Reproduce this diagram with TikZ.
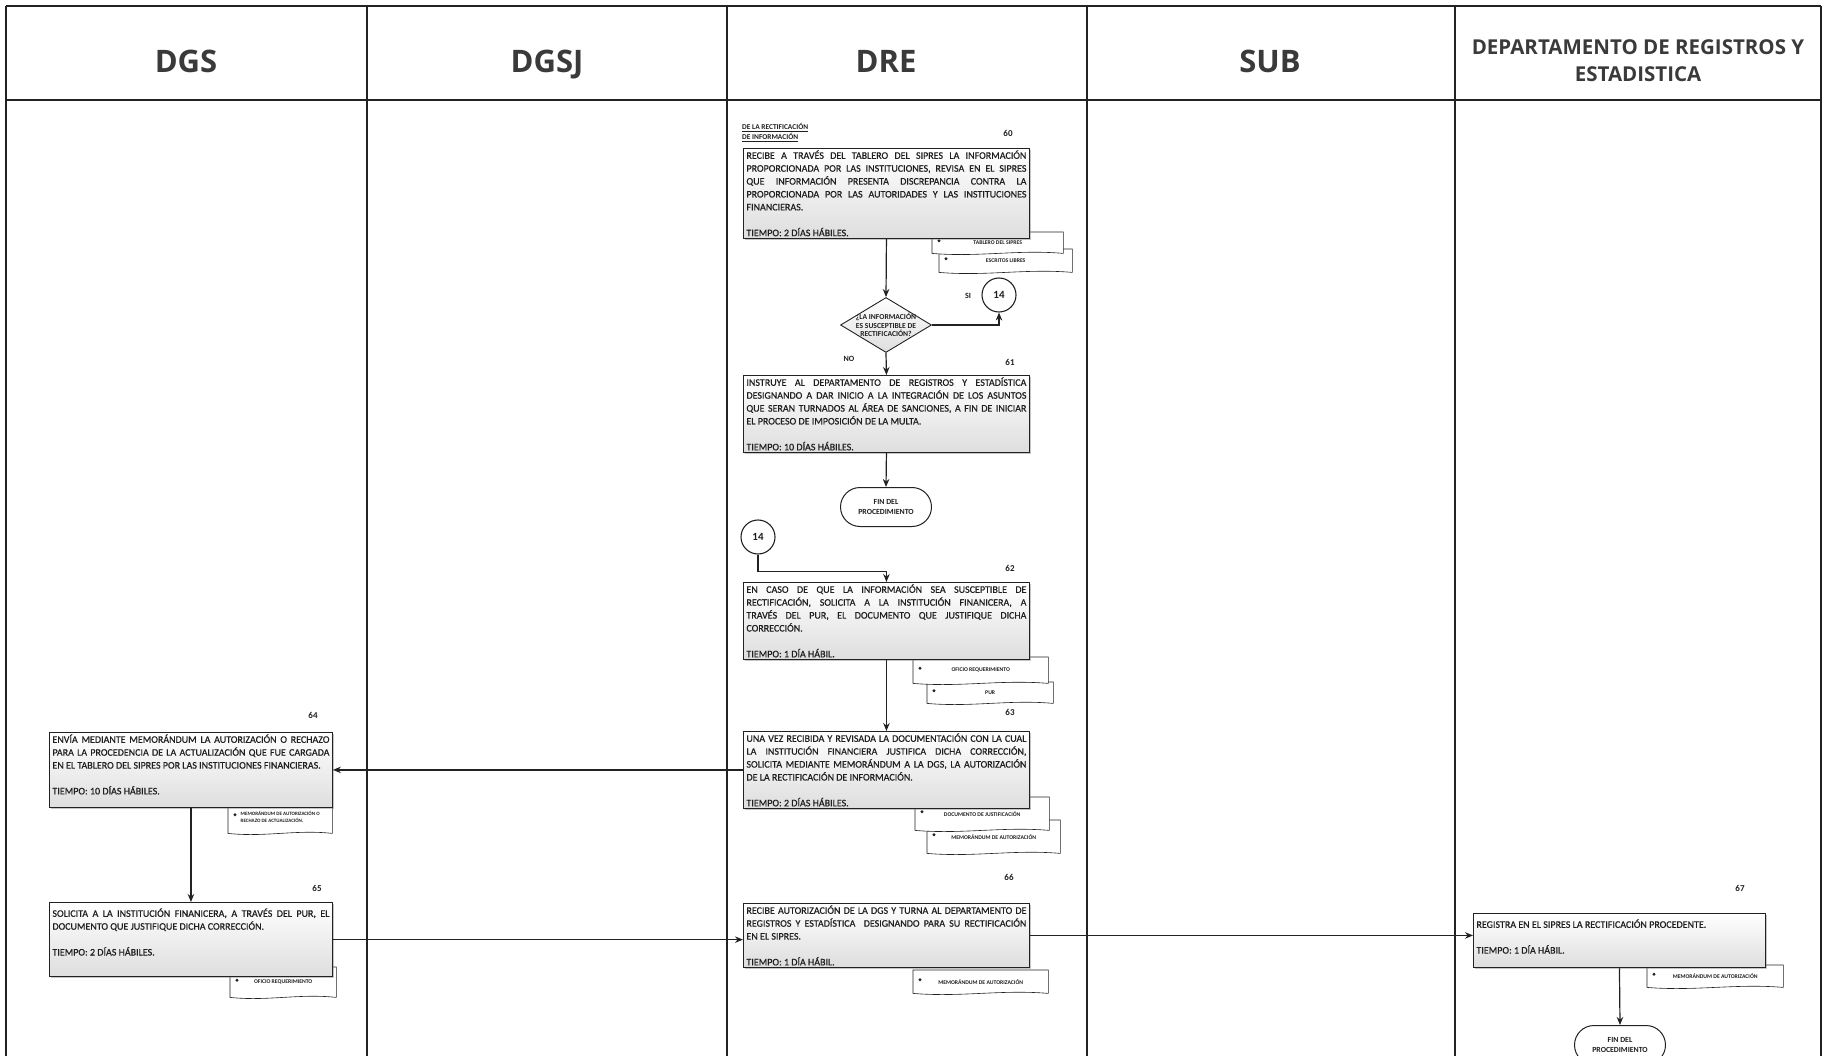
\documentclass[tikz,border=0pt]{standalone}
\usepackage{fontspec}
\setsansfont{Carlito}
\newfontfamily\headfont{Open Sans}
\newfontfamily\boxfont{Carlito}[FakeBold=0.6]
\usetikzlibrary{arrows,arrows.meta,shapes.geometric,shapes.misc,shadows}
\pgfdeclarelayer{background}
\pgfsetlayers{background,main}
\definecolor{ink}{HTML}{1F1F1F}
\definecolor{head}{HTML}{3A3A3A}
\definecolor{rule}{HTML}{222222}

% sheet of paper tucked behind a process box
\newcommand{\docsheet}[6][]{%
  \node[docnode,minimum width=#4pt,minimum height=#5pt,#1] (#2) at #3 {#6};
  \begin{pgfonlayer}{background}
    \draw[docline] (#2.north west) -- (#2.north east) -- (#2.south east)
      .. controls ([xshift=-0.35*#4pt,yshift=4pt]#2.south east)
      and ([xshift=0.35*#4pt,yshift=-4pt]#2.south west) .. (#2.south west) -- cycle;
    \fill[rule] ([xshift=7pt,yshift=2pt]#2.west) circle (1.6pt);
  \end{pgfonlayer}}

\begin{document}
\begin{tikzpicture}[
  x=1pt, y=-1pt,
  font=\sffamily,
  lane/.style={draw=rule,line width=1.4pt},
  lanehead/.style={anchor=base,font=\headfont\bfseries\fontsize{31}{34}\selectfont,text=head},
  process/.style={draw=rule,line width=.9pt,top color=white,bottom color=black!13,
    drop shadow={opacity=.45,shadow xshift=1.6pt,shadow yshift=-1.6pt},
    anchor=north west,inner xsep=3pt,inner ysep=2pt,text width=280pt,
    align=justify,font=\boxfont\fontsize{10}{12.9}\selectfont},
  decision/.style={diamond,aspect=1.65,draw=rule,line width=.9pt,top color=white,
    bottom color=black!13,inner sep=-2pt,minimum width=91pt,minimum height=55pt,
    font=\sffamily\bfseries\fontsize{7.6}{8.4}\selectfont},
  jump/.style={circle,draw=rule,line width=1.1pt,fill=white,minimum size=34pt,
    inner sep=0pt,font=\sffamily\bfseries\fontsize{11}{12}\selectfont},
  terminal/.style={rounded rectangle,draw=rule,line width=1pt,fill=white,
    minimum width=91pt,minimum height=39pt,inner sep=0pt,
    font=\sffamily\bfseries\fontsize{7.8}{9.8}\selectfont},
  docnode/.style={anchor=north west,inner sep=0pt,
    font=\sffamily\bfseries\fontsize{5.7}{7}\selectfont},
  docline/.style={draw=rule,line width=.6pt,fill=white},
  stepnum/.style={font=\sffamily\bfseries\fontsize{9}{10}\selectfont},
  flow/.style={->,>={Stealth[length=8pt,width=6.5pt]},line width=1.2pt,draw=rule},
  every node/.style={align=center,text=ink}]

  \path[use as bounding box] (0,0) rectangle (1832,1056);

  % Swimlanes and their headers
  \draw[lane] (6,6) -- (1821,6);
  \draw[lane] (6,100) -- (1821,100);
  \foreach \x in {6,367,727,1087,1455,1821}
    \draw[lane] (\x,6) -- (\x,1056);

  \node[lanehead] (hdgs) at (186,73) {DGS};
  \node[lanehead] (hdgsj) at (547,73) {DGSJ};
  \node[lanehead] (hdre) at (886,73) {DRE};
  \node[lanehead] (hsub) at (1270,73) {SUB};
  \node[lanehead,anchor=center,font=\headfont\bfseries\fontsize{20.5}{27}\selectfont]
    (hdepto) at (1638,61) {DEPARTAMENTO DE REGISTROS Y\\ESTADISTICA};

  % DRE column
  \node[anchor=north west,align=left,inner sep=0pt,
    font=\sffamily\bfseries\fontsize{7.4}{10}\selectfont] (titulo) at (742,123)
    {\underline{DE LA RECTIFICACIÓN}\\\underline{DE INFORMACIÓN}};
  \node[stepnum] (n60) at (1008,133) {60};
  \node[process] (p60) at (743,148) {RECIBE A TRAVÉS DEL TABLERO DEL SIPRES LA INFORMACIÓN\linebreak
    PROPORCIONADA POR LAS INSTITUCIONES, REVISA EN EL SIPRES\linebreak
    QUE INFORMACIÓN PRESENTA DISCREPANCIA CONTRA LA\linebreak
    PROPORCIONADA POR LAS AUTORIDADES Y LAS INSTITUCIONES\linebreak
    FINANCIERAS.\\[12.9pt]TIEMPO: 2 DÍAS HÁBILES.};
  \docsheet{d60b}{(939,249)}{133}{23}{ESCRITOS LIBRES}
  \docsheet{d60a}{(932,232)}{131}{21}{TABLERO DEL SIPRES}

  \node[decision] (dia) at (886,325) {¿LA INFORMACIÓN\\ES SUSCEPTIBLE DE\\RECTIFICACIÓN?};
  \node[jump] (c14a) at (999,295) {14};
  \node[stepnum,font=\sffamily\bfseries\fontsize{8}{9}\selectfont] (si) at (968,296) {SI};
  \node[stepnum,font=\sffamily\bfseries\fontsize{8}{9}\selectfont] (no) at (849,359) {NO};

  \node[stepnum] (n61) at (1010,362) {61};
  \node[process] (p61) at (743,375) {INSTRUYE AL DEPARTAMENTO DE REGISTROS Y ESTADÍSTICA\linebreak
    DESIGNANDO A DAR INICIO A LA INTEGRACIÓN DE LOS ASUNTOS\linebreak
    QUE SERAN TURNADOS AL ÁREA DE SANCIONES, A FIN DE INICIAR\linebreak
    EL PROCESO DE IMPOSICIÓN DE LA MULTA.\\[12.9pt]TIEMPO: 10 DÍAS HÁBILES.};
  \node[terminal] (fin1) at (886,507) {FIN DEL\\PROCEDIMIENTO};

  \node[jump] (c14b) at (758,537) {14};
  \node[stepnum] (n62) at (1010,568) {62};
  \node[process] (p62) at (743,582) {EN CASO DE QUE LA INFORMACIÓN SEA SUSCEPTIBLE DE\linebreak
    RECTIFICACIÓN, SOLICITA A LA INSTITUCIÓN FINANICERA, A\linebreak
    TRAVÉS DEL PUR, EL DOCUMENTO QUE JUSTIFIQUE DICHA\linebreak
    CORRECCIÓN.\\[12.9pt]TIEMPO: 1 DÍA HÁBIL.};
  \docsheet{d62b}{(927,682)}{126}{21}{PUR}
  \docsheet{d62a}{(913,657)}{135}{26}{OFICIO REQUERIMIENTO}

  \node[stepnum] (n63) at (1010,712) {63};
  \node[process] (p63) at (743,731) {UNA VEZ RECIBIDA Y REVISADA LA DOCUMENTACIÓN CON LA CUAL\linebreak
    LA INSTITUCIÓN FINANCIERA JUSTIFICA DICHA CORRECCIÓN,\linebreak
    SOLICITA MEDIANTE MEMORÁNDUM A LA DGS, LA AUTORIZACIÓN\linebreak
    DE LA RECTIFICACIÓN DE INFORMACIÓN.\\[12.9pt]TIEMPO: 2 DÍAS HÁBILES.};
  \docsheet{d63b}{(927,820)}{133}{33}{MEMORÁNDUM DE AUTORIZACIÓN}
  \docsheet{d63a}{(915,797)}{134}{33}{DOCUMENTO DE JUSTIFICACIÓN}

  \node[stepnum] (n66) at (1009,877) {66};
  \node[process] (p66) at (743,903) {RECIBE AUTORIZACIÓN DE LA DGS Y TURNA AL DEPARTAMENTO DE\linebreak
    REGISTROS Y ESTADÍSTICA \ DESIGNANDO PARA SU RECTIFICACIÓN\linebreak
    EN EL SIPRES.\\[12.9pt]TIEMPO: 1 DÍA HÁBIL.};
  \docsheet{d66}{(913,970)}{135}{23}{MEMORÁNDUM DE AUTORIZACIÓN}

  % DGS column
  \node[stepnum] (n64) at (313,715) {64};
  \node[process,text width=277pt,text depth=63pt] (p64) at (49,732)
    {ENVÍA MEDIANTE MEMORÁNDUM LA AUTORIZACIÓN O RECHAZO\linebreak
    PARA LA PROCEDENCIA DE LA ACTUALIZACIÓN QUE FUE CARGADA\linebreak
    EN EL TABLERO DEL SIPRES POR LAS INSTITUCIONES FINANCIERAS.\\[12.9pt]TIEMPO: 10 DÍAS HÁBILES.};
  \docsheet[align=left,font=\sffamily\bfseries\fontsize{5}{6.6}\selectfont]{d64}{(228,800)}{104}{33}{MEMORÁNDUM DE AUTORIZACIÓN O\\RECHAZO DE ACTUALIZACIÓN.}

  \node[stepnum] (n65) at (317,888) {65};
  \node[process,text width=277pt,inner ysep=6pt,text depth=54pt] (p65) at (49,902)
    {SOLICITA A LA INSTITUCIÓN FINANICERA, A TRAVÉS DEL PUR, EL\linebreak
    DOCUMENTO QUE JUSTIFIQUE DICHA CORRECCIÓN.\\[12.9pt]TIEMPO: 2 DÍAS HÁBILES.};
  \docsheet{d65}{(230,967)}{106}{30}{OFICIO REQUERIMIENTO}

  % Departamento de registros column
  \node[stepnum] (n67) at (1740,888) {67};
  \node[process,text width=286pt,inner ysep=6pt,text depth=34pt] (p67) at (1473,913)
    {REGISTRA EN EL SIPRES LA RECTIFICACIÓN PROCEDENTE.\\[12.9pt]TIEMPO: 1 DÍA HÁBIL.};
  \docsheet{d67}{(1647,965)}{136}{22}{MEMORÁNDUM DE AUTORIZACIÓN}
  \node[terminal] (fin2) at (1620,1045) {FIN DEL\\PROCEDIMIENTO};

  % Draw the arrows between the nodes.
  \draw[flow] (p60.south) -- (dia.north);
  \draw[flow] (dia.east) -| (c14a.south);
  \draw[flow] (dia.south) -- (p61.north);
  \draw[flow] (p61.south) -- (fin1.north);
  \draw[flow] (c14b.south) -- ++(0,17) -| (p62.north);
  \draw[flow] (p62.south) -- (p63.north);
  \draw[flow] (p63.west) -- (p63.west -| p64.east);
  \draw[flow] (p64.south) -- (p65.north);
  \draw[flow] (p65.east) -- (p65.east -| p66.west);
  \draw[flow] (p66.east) -- (p66.east -| p67.west);
  \draw[flow] (p67.south) -- (fin2.north);

\end{tikzpicture}
\end{document}
